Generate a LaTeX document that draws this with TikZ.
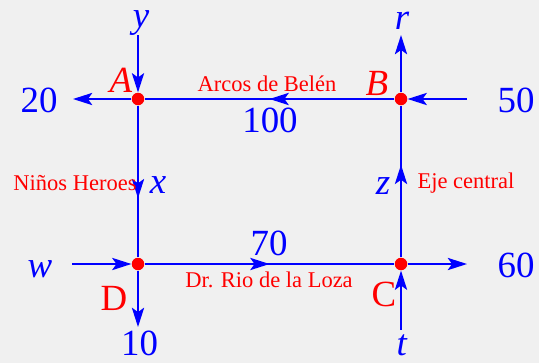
\documentclass[tikz,border=0pt]{standalone}
\usepackage{fontspec}
\setmainfont{Liberation Serif}
\usepackage{tikz}
\usetikzlibrary{arrows.meta,decorations.markings}
\definecolor{fondo}{RGB}{240,240,240}
\definecolor{azul}{RGB}{0,0,255}
\definecolor{rojo}{RGB}{255,0,0}

\begin{document}
\begin{tikzpicture}[
  via/.style={draw=azul, line width=0.85pt,
    -{Stealth[length=11pt, width=7pt, inset=2.5pt]}},
  tramo/.style={draw=azul, line width=0.85pt, postaction=decorate,
    decoration={markings, mark=at position #1 with
      {\arrow{Stealth[length=11pt, width=7pt, inset=2.5pt]}}}},
  cruce/.style={circle, fill=rojo, inner sep=0pt, minimum size=0.25cm},
  flujo/.style={text=azul, font=\fontsize{21}{21}\selectfont,
    anchor=base, inner sep=0pt},
  esquina/.style={text=rojo, font=\fontsize{21}{21}\selectfont,
    anchor=base, inner sep=0pt},
  calle/.style={text=rojo, font=\fontsize{12.8}{13}\selectfont,
    anchor=base, inner sep=0pt},
]
  \fill[fondo] (0,0) rectangle (10.78,7.26);
  \useasboundingbox (0,0) rectangle (10.78,7.26);
  % ---- Cruces ----
  \node[cruce] (A) at (2.76,5.28) {};
  \node[cruce] (B) at (8.02,5.28) {};
  \node[cruce] (C) at (8.02,1.98) {};
  \node[cruce] (D) at (2.76,1.98) {};
  % ---- Extremos de las calles ----
  \coordinate (ey)  at (2.76,6.56);
  \coordinate (e20) at (1.46,5.28);
  \coordinate (e50) at (9.34,5.28);
  \coordinate (er)  at (8.02,6.56);
  \coordinate (et)  at (8.02,0.66);
  \coordinate (e60) at (9.34,1.98);
  \coordinate (ew)  at (1.44,1.98);
  \coordinate (e10) at (2.76,0.72);
  % ---- Flujos ----
  \draw[via] (ey) -- (A);
  \draw[via] (A) -- (e20);
  \draw[via] (e50) -- (B);
  \draw[via] (B) -- (er);
  \draw[via] (et) -- (C);
  \draw[via] (C) -- (e60);
  \draw[via] (ew) -- (D);
  \draw[via] (D) -- (e10);
  \draw[tramo=0.5] (B) -- (A);
  \draw[tramo=0.61] (A) -- (D);
  \draw[tramo=0.5] (D) -- (C);
  \draw[tramo=0.61] (C) -- (B);
  % ---- Etiquetas ----
  \node[flujo] (ly)   at (2.82,6.72) {\textit{y}};
  \node[flujo] (lr)   at (8.04,6.68) {\textit{r}};
  \node[flujo] (l20)  at (0.78,5.02) {20};
  \node[flujo] (l50)  at (10.32,5.02) {50};
  \node[flujo] (l100) at (5.40,4.62) {100};
  \node[flujo] (lx)   at (3.16,3.40) {\textit{x}};
  \node[flujo] (lz)   at (7.66,3.38) {\textit{z}};
  \node[flujo] (l70)  at (5.38,2.16) {70};
  \node[flujo] (lw)   at (0.80,1.72) {\textit{w}};
  \node[flujo] (l60)  at (10.32,1.72) {60};
  \node[flujo] (l10)  at (2.79,0.16) {10};
  \node[flujo] (lt)   at (8.04,0.16) {\textit{t}};
  \node[esquina] (lA) at (2.42,5.42) {\textit{A}};
  \node[esquina] (lB) at (7.54,5.36) {\textit{B}};
  \node[esquina] (lD) at (2.28,1.06) {D};
  \node[esquina] (lC) at (7.68,1.14) {C};
  \node[calle] (arcos)  at (5.34,5.44) {Arcos de Belén};
  \node[calle] (ninos)  at (1.50,3.46) {Niños Heroes};
  \node[calle] (eje)    at (9.32,3.50) {Eje central};
  \node[calle] (rio)    at (5.38,1.52) {Dr. Rio de la Loza};
\end{tikzpicture}
\end{document}
